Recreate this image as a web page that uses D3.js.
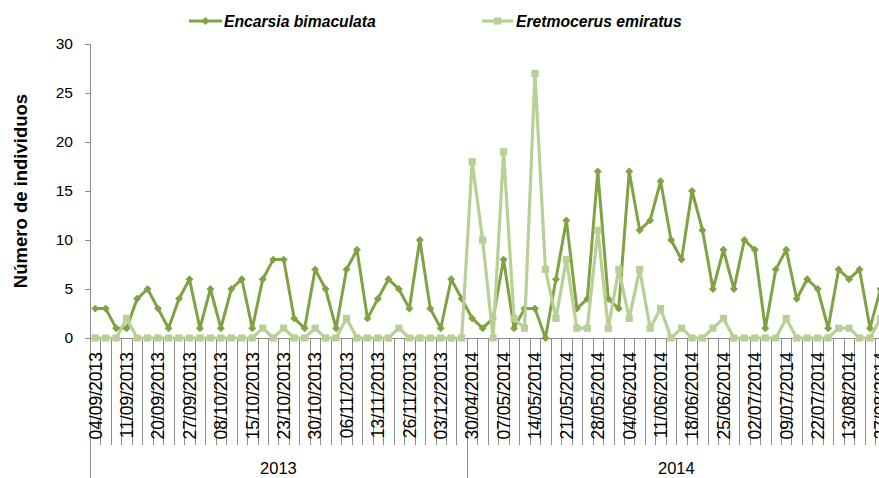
<!DOCTYPE html>
<html>
<head>
<meta charset="utf-8">
<script src="https://cdn.jsdelivr.net/npm/d3@7"></script>
<style>
  html, body { margin: 0; padding: 0; background: #fff; overflow: hidden; }
  svg { display: block; }
  text { font-family: "Liberation Sans", Arial, sans-serif; fill: #000; }
</style>
</head>
<body>
<svg id="chart" width="879" height="478"></svg>
<script>
// ---- data ----
const seriesNames = ["Encarsia bimaculata", "Eretmocerus emiratus"];
const encarsia = [3,3,1,1,4,5,3,1,4,6,1,5,1,5,6,1,6,8,8,2,1,7,5,1,7,9,2,4,6,5,3,10,3,1,6,4,
                  2,1,2,8,1,3,3,0,6,12,3,4,17,4,3,17,11,12,16,10,8,15,11,5,9,5,10,9,1,7,9,4,6,5,1,7,6,7,1,5];
const eretmocerus = [0,0,0,2,0,0,0,0,0,0,0,0,0,0,0,0,1,0,1,0,0,1,0,0,2,0,0,0,0,1,0,0,0,0,0,0,
                     18,10,0,19,2,1,27,7,2,8,1,1,11,1,7,2,7,1,3,0,1,0,0,1,2,0,0,0,0,0,2,0,0,0,0,1,1,0,0,2];
// visible category labels (every third category is labelled)
const tickLabels = ["04/09/2013","11/09/2013","20/09/2013","27/09/2013","08/10/2013","15/10/2013",
                    "23/10/2013","30/10/2013","06/11/2013","13/11/2013","26/11/2013","03/12/2013",
                    "30/04/2014","07/05/2014","14/05/2014","21/05/2014","28/05/2014","04/06/2014",
                    "11/06/2014","18/06/2014","25/06/2014","02/07/2014","09/07/2014","22/07/2014",
                    "13/08/2014","27/08/2014"];
const labelStep = 3;
const years = ["2013", "2014"];
const yearCounts = [36, 40];
const yTicks = [0, 5, 10, 15, 20, 25, 30];

// ---- layout ----
const svg = d3.select("#chart");
const left = 90, catW = 10.47, nCat = encarsia.length;
const right = left + nCat * catW;
const yTop = 44, yBase = 338;
const darkC = "#7FA243", lightC = "#B8D095", axisC = "#8C8C8C";

const x = d3.scaleBand().domain(d3.range(nCat)).range([left, right]).padding(0);
const xc = i => x(i) + x.bandwidth() / 2;
const y = d3.scaleLinear().domain([0, 30]).range([yBase, yTop]);

// y axis
const yAxis = d3.axisLeft(y).tickValues(yTicks).tickSize(5).tickPadding(12);
const gy = svg.append("g").attr("transform", `translate(${left},0)`).call(yAxis);
gy.select(".domain").remove();
gy.selectAll(".tick line").attr("stroke", axisC);
gy.selectAll(".tick text").style("font-size", "15.5px").style("font-family", '"Liberation Sans", Arial, sans-serif').attr("fill", "#000");
svg.append("line").attr("x1", left + 0.5).attr("x2", left + 0.5).attr("y1", yTop).attr("y2", 478).attr("stroke", axisC);

// x axis line
svg.append("line").attr("x1", left).attr("x2", right).attr("y1", yBase + 0.5).attr("y2", yBase + 0.5).attr("stroke", axisC);

// category boundaries
const yearEdges = [0];
yearCounts.forEach((c, i) => yearEdges.push(yearEdges[i] + c));
const bounds = d3.range(nCat + 1);
svg.append("g").selectAll("line").data(bounds).join("line")
  .attr("x1", i => Math.round(left + i * catW) + 0.5)
  .attr("x2", i => Math.round(left + i * catW) + 0.5)
  .attr("y1", yBase)
  .attr("y2", i => yearEdges.includes(i) ? 478 : 445)
  .attr("stroke", axisC);

// category labels
svg.append("g").selectAll("text").data(tickLabels).join("text")
  .attr("transform", (d, k) => `translate(${xc(k * labelStep)},352) rotate(-90)`)
  .attr("text-anchor", "end")
  .attr("dy", "0.36em")
  .style("font-size", "17.5px")
  .text(d => d);

// year labels
svg.append("g").selectAll("text").data(years).join("text")
  .attr("x", (d, i) => left + (yearEdges[i] + yearEdges[i + 1]) / 2 * catW)
  .attr("y", 474)
  .attr("text-anchor", "middle")
  .style("font-size", "16.5px")
  .text(d => d);

// y title
svg.append("text")
  .attr("transform", "translate(20,191) rotate(-90)")
  .attr("text-anchor", "middle")
  .attr("dy", "0.36em")
  .style("font-size", "18.5px")
  .style("font-weight", "bold")
  .text("Número de individuos");

// lines
const line = d3.line().x((d, i) => xc(i)).y(d => y(d));
function drawSeries(data, color, width, marker) {
  const g = svg.append("g");
  g.append("path").datum(data).attr("d", line).attr("fill", "none")
    .attr("stroke", color).attr("stroke-width", width).attr("stroke-linejoin", "round");
  const sym = marker === "diamond"
    ? d3.symbol().type(d3.symbolDiamond2).size(40)
    : d3.symbol().type(d3.symbolSquare).size(52);
  g.selectAll("path.m").data(data).join("path").attr("class", "m")
    .attr("transform", (d, i) => `translate(${xc(i)},${y(d)})`)
    .attr("d", sym).attr("fill", color);
}
drawSeries(encarsia, darkC, 3, "diamond");
drawSeries(eretmocerus, lightC, 3.2, "square");

// legend
const legend = [
  { name: seriesNames[0], color: darkC, marker: "diamond", x1: 189, x2: 222, tx: 224 },
  { name: seriesNames[1], color: lightC, marker: "square", x1: 482, x2: 513, tx: 516 }
];
legend.forEach(l => {
  const ly = 21;
  svg.append("line").attr("x1", l.x1).attr("x2", l.x2).attr("y1", ly).attr("y2", ly)
    .attr("stroke", l.color).attr("stroke-width", 3.2);
  const sym = l.marker === "diamond"
    ? d3.symbol().type(d3.symbolDiamond2).size(40)
    : d3.symbol().type(d3.symbolSquare).size(52);
  svg.append("path").attr("transform", `translate(${(l.x1 + l.x2) / 2},${ly})`).attr("d", sym).attr("fill", l.color);
  svg.append("text").attr("x", l.tx).attr("y", ly).attr("dy", "0.36em")
    .style("font-size", "15.7px").style("font-weight", "bold").style("font-style", "italic")
    .text(l.name);
});
</script>
</body>
</html>
